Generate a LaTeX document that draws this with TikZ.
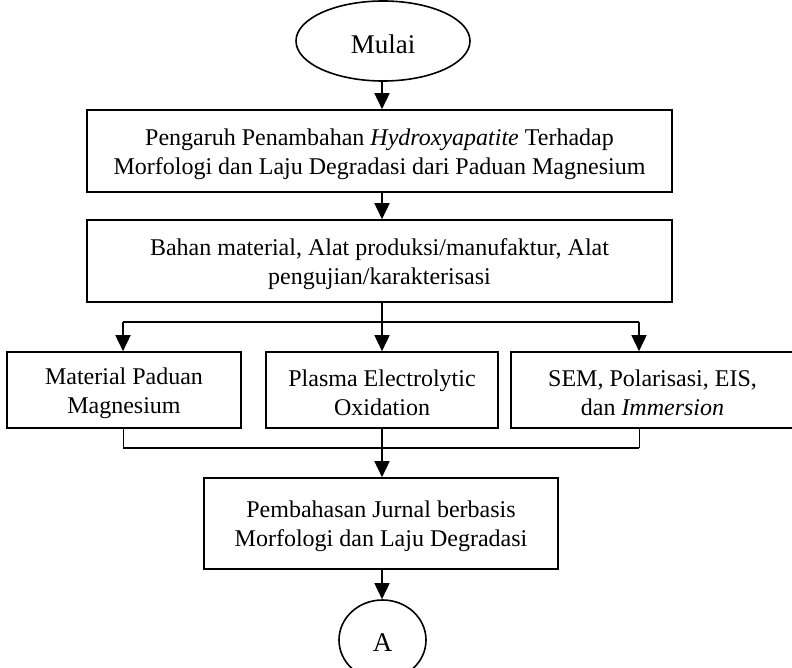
\documentclass[tikz,border=0pt]{standalone}
\usepackage{fontspec}
\setmainfont{Liberation Serif}
\usetikzlibrary{shapes.geometric,arrows.meta}
\begin{document}
\begin{tikzpicture}[x=1bp,y=-1bp,
  every node/.style={font=\fontsize{24bp}{29bp}\selectfont, inner sep=0pt, align=center},
  box/.style={draw, line width=1.6bp, rectangle},
  oval/.style={draw, line width=1.6bp, ellipse},
  txt/.style={yshift=-3bp},
  bigtxt/.style={yshift=-3bp, font=\fontsize{27bp}{31bp}\selectfont},
  arr/.style={line width=1.6bp, -{Triangle[width=15bp,length=16bp]}},
  ln/.style={line width=1.6bp},
  thin/.style={line width=1bp}]
\useasboundingbox (0,0) rectangle (792,668);
\begin{scope}
\clip (0,0) rectangle (792,668);
\node[oval, minimum width=174bp, minimum height=80bp] (start) at (383,41) {};
\node[bigtxt] (startt) at (start.center) {Mulai};
\node[box, minimum width=585bp, minimum height=82bp] (b1) at (379.5,151) {};
\node[txt] (b1t) at (b1.center)
  {Pengaruh Penambahan \textit{Hydroxyapatite} Terhadap\\Morfologi dan Laju Degradasi dari Paduan Magnesium};
\node[box, minimum width=585bp, minimum height=82bp] (b2) at (379.5,261) {};
\node[txt] (b2t) at (b2.center)
  {Bahan material, Alat produksi/manufaktur, Alat\\pengujian/karakterisasi};
\node[box, minimum width=234bp, minimum height=76bp] (l) at (124,390) {};
\node[txt] (lt) at (l.center) {Material Paduan\\Magnesium};
\node[box, minimum width=232bp, minimum height=76bp] (m) at (382,390) {};
\node[txt] (mt) at (m.center) {Plasma Electrolytic\\Oxidation};
\node[box, minimum width=283bp, minimum height=76bp] (r) at (652.5,390) {};
\node[txt] (rt) at (r.center) {SEM, Polarisasi, EIS,\\dan \textit{Immersion}};
\node[box, minimum width=354bp, minimum height=91bp] (b3) at (381,523.5) {};
\node[txt] (b3t) at (b3.center) {Pembahasan Jurnal berbasis\\Morfologi dan Laju Degradasi};
\node[oval, minimum width=87bp, minimum height=80bp] (end) at (382.5,640) {};
\node[bigtxt] (endt) at (end.center) {A};

\coordinate (jt) at (382,322);
\coordinate (jl) at (123,322);
\coordinate (jr) at (639,322);
\coordinate (kt) at (382,448);
\coordinate (kl) at (123,448);
\coordinate (kr) at (639,448);

\draw[arr] (start.south -| jt) -- (b1.north -| jt);
\draw[arr] (b1.south -| jt) -- (b2.north -| jt);
\draw[ln] (b2.south -| jt) -- (jt);
\draw[ln] (jl) -- (jr);
\draw[arr] (jl) -- (l.north -| jl);
\draw[arr] (jt) -- (m.north -| jt);
\draw[arr] (jr) -- (r.north -| jr);
\draw[thin] (l.south -| kl) -- (kl);
\draw[thin] (r.south -| kr) -- (kr);
\draw[ln] (kl) -- (kr);
\draw[ln] (m.south -| kt) -- (kt);
\draw[arr] (kt) -- (b3.north -| kt);
\draw[arr] (b3.south -| kt) -- (end.north -| kt);
\end{scope}
\end{tikzpicture}
\end{document}
